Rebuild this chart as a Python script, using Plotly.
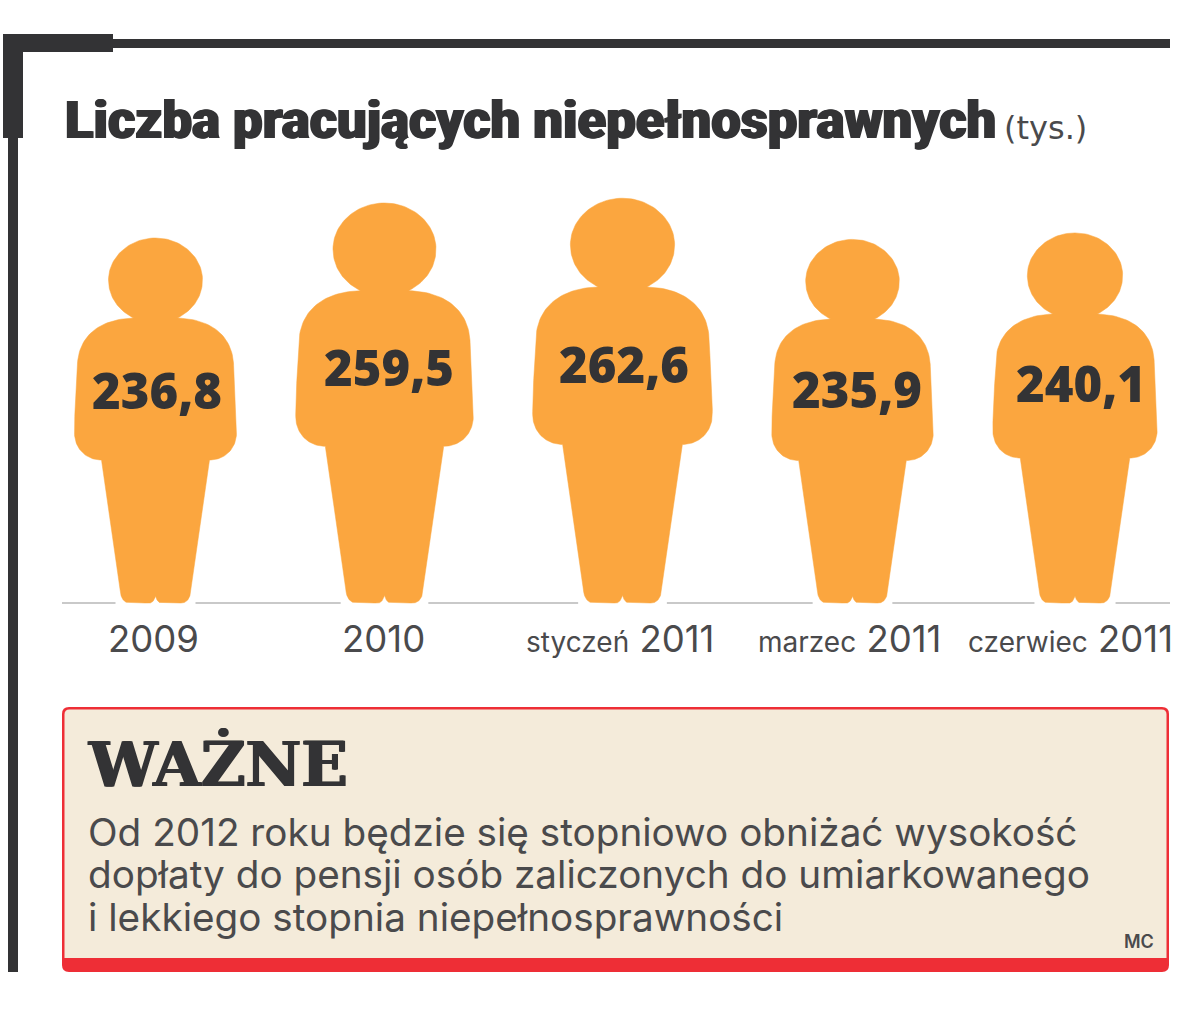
"""Liczba pracujacych niepelnosprawnych - pictogram chart."""

import plotly.graph_objects as go

periods = ["", "", "styczeń", "marzec", "czerwiec"]
years = ["2009", "2010", "2011", "2011", "2011"]
values = [236.8, 259.5, 262.6, 235.9, 240.1]

title = "Liczba pracujących niepełnosprawnych"
unit = "(tys.)"
box_title = "WAŻNE"
box_lines = [
    "Od 2012 roku będzie się stopniowo obniżać wysokość",
    "dopłaty do pensji osób zaliczonych do umiarkowanego",
    "i lekkiego stopnia niepełnosprawności",
]
credit = "MC"

W, H = 1200, 1018
DARK = "#333335"
ORANGE = "#fba63f"
RED = "#ee2e36"
CREAM = "#f4ebda"
GREY = "#4a4a4c"

# page layout, in pixels
CENTRES = [155.5, 384.5, 622.5, 852.5, 1075]
VALUE_CENTRES = [157, 389, 624, 857, 1081]
VALUE_LIFT = [0, 3, 3, 1, 4]
LABEL_CENTRES = [153.5, 383, 620, 849, 1070]
BASE_Y = 603
PX_PER_UNIT = 365 / 236.8
REF_VALUE = 236.8
REF_HEIGHT = 365

# right half of the person, px at the reference value; (dx, h above ground)
BODY = [
    [(0, 365), (26, 365), (47, 346), (47, 323)],
    [(47, 323), (47, 307), (38, 293), (22, 285)],
    [(22, 285), (55, 284), (76, 268), (78, 240)],
    [(78, 240), (79, 215), (81, 195), (81, 170)],
    [(81, 170), (81, 155), (70, 143), (54, 143)],
    [(54, 143), (48, 100), (41, 55), (35, 10)],
    [(35, 10), (34, 3), (30, 0), (26, 0)],
    [(26, 0), (20, 0), (12, 0), (6, 0)],
    [(6, 0), (3, 0), (1, 3), (0, 7)],
]


def bezier(seg, n=30):
    pts = []
    for i in range(n):
        t = i / n
        a = (1 - t) ** 3
        b = 3 * t * (1 - t) ** 2
        c = 3 * t * t * (1 - t)
        d = t ** 3
        pts.append((
            a * seg[0][0] + b * seg[1][0] + c * seg[2][0] + d * seg[3][0],
            a * seg[0][1] + b * seg[1][1] + c * seg[2][1] + d * seg[3][1],
        ))
    return pts


half = []
for seg in BODY:
    half += bezier(seg)
half.append(BODY[-1][-1])
outline = half + [(-x, h) for x, h in reversed(half)]


def person(centre, value):
    # height and width both scale with the value
    k = value / REF_VALUE
    xs = [centre + x * k for x, h in outline]
    ys = [value * h / REF_HEIGHT for x, h in outline]
    return xs, ys


def px(x):
    return x / W


def py(y):
    return 1 - y / H


def rounded(x0, y0, x1, y1, r, bottom=True):
    s = f"M{px(x0 + r)},{py(y0)} L{px(x1 - r)},{py(y0)} "
    s += f"Q{px(x1)},{py(y0)} {px(x1)},{py(y0 + r)} "
    if bottom:
        s += f"L{px(x1)},{py(y1 - r)} Q{px(x1)},{py(y1)} {px(x1 - r)},{py(y1)} "
        s += f"L{px(x0 + r)},{py(y1)} Q{px(x0)},{py(y1)} {px(x0)},{py(y1 - r)} "
    else:
        s += f"L{px(x1)},{py(y1)} L{px(x0)},{py(y1)} "
    s += f"L{px(x0)},{py(y0 + r)} Q{px(x0)},{py(y0)} {px(x0 + r)},{py(y0)} Z"
    return s


def rect(x0, y0, x1, y1, colour):
    return dict(type="rect", xref="paper", yref="paper", x0=px(x0), x1=px(x1),
                y0=py(y1), y1=py(y0), fillcolor=colour, line_width=0, layer="below")


def label(x, y, text, size, colour, family, anchor="left", weight=None, shadow=None):
    font = dict(size=size, color=colour, family=family)
    if weight:
        font["weight"] = weight
    if shadow:
        font["shadow"] = shadow
    return dict(xref="paper", yref="paper", x=px(x), y=py(y), text=text, showarrow=False,
                xanchor=anchor, yanchor="middle", font=font, borderpad=0)


fig = go.Figure()

# baseline broken around the feet
base_x = [62]
base_y = [0]
for c, v in zip(CENTRES, values):
    gap = 40 * v / REF_VALUE
    base_x += [c - gap, None, c + gap]
    base_y += [0, None, 0]
base_x.append(1170)
base_y.append(0)
fig.add_trace(go.Scatter(x=base_x, y=base_y, mode="lines", hoverinfo="skip",
                         line=dict(color="#c9c9c9", width=2), showlegend=False))

for c, v, p, yr in zip(CENTRES, values, periods, years):
    xs, ys = person(c, v)
    fig.add_trace(go.Scatter(x=xs, y=ys, mode="lines", fill="toself", fillcolor=ORANGE,
                             line=dict(color=ORANGE, width=0.5), showlegend=False,
                             name=f"{p} {yr}".strip(), hoverinfo="name"))

fig.add_trace(go.Scatter(
    x=VALUE_CENTRES,
    y=[v * 0.566 + lift / PX_PER_UNIT for v, lift in zip(values, VALUE_LIFT)],
    mode="text",
    text=[f"{v:.1f}".replace(".", ",") for v in values],
    textposition="middle center",
    textfont=dict(size=49, color=DARK, family="Open Sans", weight=800),
    hoverinfo="skip",
    showlegend=False,
))

shapes = [
    rect(3, 34, 113, 52, DARK),
    rect(113, 39, 1170, 48, DARK),
    rect(3, 34, 23, 138, DARK),
    rect(8, 138, 18, 972, DARK),
    dict(type="path", xref="paper", yref="paper", path=rounded(62, 707, 1169, 972, 7),
         fillcolor=RED, line_width=0, layer="below"),
    dict(type="path", xref="paper", yref="paper", path=rounded(64.5, 709.5, 1166.5, 958, 5, False),
         fillcolor=CREAM, line_width=0, layer="below"),
]

heavy = f"1px 0 0 {DARK}, -1px 0 0 {DARK}"
annotations = [
    label(64, 120, title, 52.6, DARK, "Roboto", weight=900, shadow=heavy),
    label(1003, 128, unit, 32, GREY, "DejaVu Sans"),
    label(87, 764, box_title, 61, DARK, "DejaVu Serif", weight=700, shadow=heavy),
    label(1155, 941, credit, 18, GREY, "Inter", anchor="right", weight=600),
]
for line, y in zip(box_lines, [832, 874, 917]):
    annotations.append(label(87, y, line, 38.7, GREY, "Inter"))
for x, p, yr in zip(LABEL_CENTRES, periods, years):
    text = f'<span style="font-size:28px">{p}</span> {yr}' if p else yr
    annotations.append(label(x, 639, text, 36.5, GREY, "Inter", anchor="center"))

fig.update_layout(
    width=W,
    height=H,
    margin=dict(l=0, r=0, t=0, b=0),
    paper_bgcolor="white",
    plot_bgcolor="white",
    showlegend=False,
    shapes=shapes,
    annotations=annotations,
    xaxis=dict(range=[0, W], visible=False, fixedrange=True),
    yaxis=dict(range=[-(H - BASE_Y) / PX_PER_UNIT, BASE_Y / PX_PER_UNIT], visible=False, fixedrange=True),
)

fig.write_html("out.html", config=dict(displayModeBar=False),
               post_script="document.body.style.margin='0';")
